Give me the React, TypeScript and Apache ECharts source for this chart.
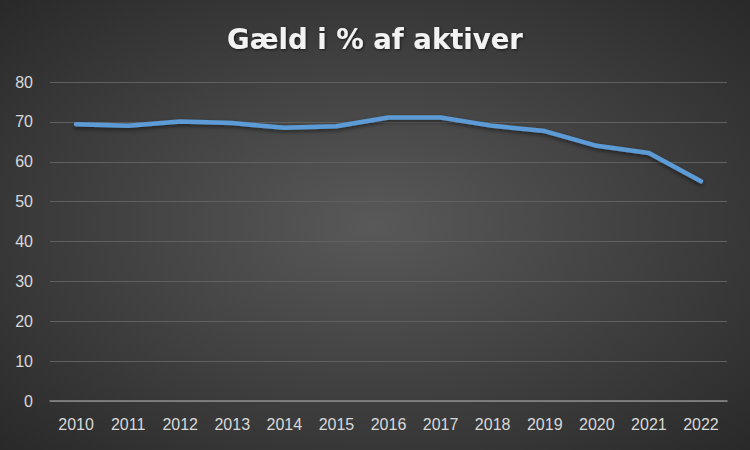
import React, { useEffect, useRef } from "react";
import * as echarts from "echarts";

const categories = ["2010", "2011", "2012", "2013", "2014", "2015", "2016", "2017", "2018", "2019", "2020", "2021", "2022"];
const values = [69.4, 69.0, 70.1, 69.7, 68.5, 68.9, 71.1, 71.1, 69.0, 67.7, 64.0, 62.2, 55.1];
const yTicks = { min: 0, max: 80, interval: 10 };
const titleText = "Gæld i % af aktiver";

export default function App() {
  const ref = useRef<HTMLDivElement>(null);
  useEffect(() => {
    if (!ref.current) return;
    const chart = echarts.init(ref.current, undefined, { renderer: "svg" });
    chart.setOption({
      animation: false,
      backgroundColor: {
        type: "radial",
        x: 0.5,
        y: 0.5,
        r: 0.75,
        colorStops: [
          { offset: 0, color: "#595959" },
          { offset: 1, color: "#262626" },
        ],
      },
      title: {
        text: titleText,
        left: "center",
        top: 20,
        textStyle: {
          color: "#f2f2f2",
          fontFamily: "DejaVu Sans",
          fontWeight: "bold",
          fontSize: 27.5,
          textShadowColor: "rgba(0,0,0,0.6)",
          textShadowBlur: 3,
          textShadowOffsetX: 1,
          textShadowOffsetY: 1,
        },
      },
      grid: { left: 50, right: 23, top: 82, bottom: 49, containLabel: false },
      xAxis: {
        type: "category",
        data: categories,
        boundaryGap: true,
        axisLine: { show: true, lineStyle: { color: "#8c8c8c", width: 1.5 } },
        axisTick: { show: false },
        axisLabel: { color: "#d9d9d9", fontSize: 16, fontFamily: "Liberation Sans", margin: 15 },
      },
      yAxis: {
        type: "value",
        min: yTicks.min,
        max: yTicks.max,
        interval: yTicks.interval,
        axisLine: { show: false },
        axisTick: { show: false },
        splitLine: { lineStyle: { color: "#606060", width: 1 } },
        axisLabel: { color: "#d9d9d9", fontSize: 16, fontFamily: "Liberation Sans", margin: 17 },
      },
      series: [
        {
          type: "line",
          data: values,
          symbol: "none",
          lineStyle: {
            color: "#5b9bd5",
            width: 4.5,
            cap: "round",
            join: "round",
            shadowColor: "rgba(0,0,0,0.5)",
            shadowBlur: 4,
            shadowOffsetY: 2,
          },
        },
      ],
    });
    return () => chart.dispose();
  }, []);
  return <div ref={ref} style={{ width: 750, height: 450, position: "absolute", left: 0, top: 0 }} />;
}
